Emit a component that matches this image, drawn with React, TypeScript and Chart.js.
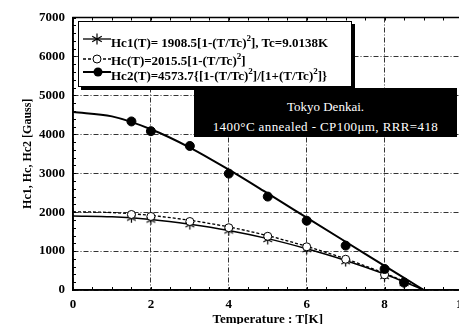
import React, { useEffect, useRef } from "react";
import { Chart, registerables } from "chart.js";

Chart.register(...registerables);

// ---- data ----
const curveT = [0, 1, 2, 3, 4, 5, 6, 7, 8, 8.5, 9.01];
const hc1Curve = [1900, 1880, 1810, 1690, 1530, 1320, 1060, 760, 410, 210, 0];
const hcCurve = [2010, 1990, 1915, 1790, 1620, 1395, 1120, 800, 430, 225, 0];
const hc2Curve = [4570, 4460, 4130, 3660, 3090, 2480, 1860, 1240, 620, 310, 0];

const markT = [1.5, 2, 3, 4, 5, 6, 7, 8, 8.5];
const hc1Pts = [1850, 1800, 1680, 1520, 1300, 1040, 730, 350, 170];
const hcPts = [1940, 1890, 1760, 1600, 1380, 1110, 790, 390, 200];
const hc2Pts = [4330, 4080, 3700, 2990, 2400, 1780, 1140, 540, 190];

const xMin = 0;
const xMax = 10;
const xStep = 2;
const xMinor = 0.5;
const yMin = 0;
const yMax = 7000;
const yStep = 1000;
const yMinor = 200;

const xTitle = "Temperature : T[K]";
const yTitle = "Hc1, Hc, Hc2 [Gauss]";

// legend rows: [text, superscript, text, ...]
const legendHc1 = ["Hc1(T)= 1908.5[1-(T/Tc)", "2", "], Tc=9.0138K"];
const legendHc = ["Hc(T)=2015.5[1-(T/Tc)", "2", "]"];
const legendHc2 = ["Hc2(T)=4573.7{[1-(T/Tc)", "2", "]/[1+(T/Tc)", "2", "]}"];

const noteLines = ["Tokyo Denkai.", "1400°C annealed - CP100μm, RRR=418"];

const SERIF = "'Liberation Serif', 'Times New Roman', serif";

function makeStar(size: number) {
  const c = document.createElement("canvas");
  c.width = size;
  c.height = size;
  const g = c.getContext("2d")!;
  g.strokeStyle = "#000";
  g.lineWidth = 1.2;
  const cx = size / 2;
  const r = size / 2 - 0.5;
  g.beginPath();
  [90, 30, 150].forEach((deg) => {
    const a = (deg * Math.PI) / 180;
    g.moveTo(cx - r * Math.cos(a), cx - r * Math.sin(a));
    g.lineTo(cx + r * Math.cos(a), cx + r * Math.sin(a));
  });
  g.stroke();
  return c;
}

const pts = (xs: number[], ys: number[]) => xs.map((x, i) => ({ x, y: ys[i] }));

const framePlugin = {
  id: "frameTicks",
  afterDatasetsDraw(chart: any) {
    const { ctx, chartArea: a, scales } = chart;
    const xs = scales.x;
    const ys = scales.y;
    ctx.save();
    ctx.strokeStyle = "#000";
    ctx.lineWidth = 1;
    ctx.beginPath();
    for (let v = xMin; v <= xMax + 1e-9; v += xMinor) {
      const px = Math.round(xs.getPixelForValue(v)) + 0.5;
      ctx.moveTo(px, a.bottom);
      ctx.lineTo(px, a.bottom - 3);
      ctx.moveTo(px, a.top);
      ctx.lineTo(px, a.top + 3);
    }
    for (let v = yMin; v <= yMax + 1e-9; v += yMinor) {
      const py = Math.round(ys.getPixelForValue(v)) + 0.5;
      ctx.moveTo(a.left, py);
      ctx.lineTo(a.left + 3, py);
    }
    ctx.stroke();
    ctx.lineWidth = 1.5;
    ctx.strokeRect(a.left, a.top, a.right - a.left, a.bottom - a.top);
    ctx.restore();
  },
};

function Sup({ segs }: { segs: string[] }) {
  return (
    <>
      {segs.map((s, i) =>
        i % 2 === 1 ? (
          <span key={i} style={{ fontSize: 9, position: "relative", top: -6 }}>
            {s}
          </span>
        ) : (
          <span key={i}>{s}</span>
        )
      )}
    </>
  );
}

export default function App() {
  const ref = useRef<HTMLCanvasElement | null>(null);

  useEffect(() => {
    if (!ref.current) return;
    const star = makeStar(11);
    const chart = new Chart(ref.current, {
      type: "line",
      data: {
        datasets: [
          {
            label: "Hc2 fit",
            data: pts(curveT, hc2Curve),
            borderColor: "#000",
            borderWidth: 2,
            pointRadius: 0,
            cubicInterpolationMode: "monotone",
            order: 6,
          },
          {
            label: "Hc fit",
            data: pts(curveT, hcCurve),
            borderColor: "#000",
            borderWidth: 1.3,
            borderDash: [3, 2],
            pointRadius: 0,
            cubicInterpolationMode: "monotone",
            order: 5,
          },
          {
            label: "Hc1 fit",
            data: pts(curveT, hc1Curve),
            borderColor: "#000",
            borderWidth: 1.5,
            pointRadius: 0,
            cubicInterpolationMode: "monotone",
            order: 4,
          },
          {
            label: "Hc1",
            data: pts(markT, hc1Pts),
            showLine: false,
            pointStyle: star as any,
            pointRadius: 5,
            borderColor: "#000",
            order: 3,
          },
          {
            label: "Hc",
            data: pts(markT, hcPts),
            showLine: false,
            pointStyle: "circle",
            pointRadius: 4,
            backgroundColor: "#fff",
            borderColor: "#000",
            borderWidth: 1,
            order: 2,
          },
          {
            label: "Hc2",
            data: pts(markT, hc2Pts),
            showLine: false,
            pointStyle: "circle",
            pointRadius: 4.5,
            backgroundColor: "#000",
            borderColor: "#000",
            borderWidth: 1,
            order: 1,
          },
        ],
      },
      options: {
        responsive: false,
        animation: false,
        devicePixelRatio: 1,
        layout: { padding: { left: 0, right: 17.5, top: 17.5, bottom: 0 } },
        plugins: {
          legend: { display: false },
          tooltip: { enabled: false },
        },
        scales: {
          x: {
            type: "linear",
            min: xMin,
            max: xMax,
            ticks: {
              stepSize: xStep,
              padding: 7,
              color: "#000",
              maxRotation: 0,
              callback: (v: any) => String(v),
              font: { family: SERIF, size: 13, weight: "bold" },
            },
            grid: { color: "#333", lineWidth: 1, drawTicks: false },
            border: { color: "#000", width: 1.5, dash: [5, 2, 1, 2] },
            title: {
              display: true,
              text: xTitle,
              color: "#000",
              padding: 0,
              font: { family: SERIF, size: 13, weight: "bold", lineHeight: 0.7 },
            },
            afterFit: (s: any) => {
              s.height = 34;
            },
          },
          y: {
            type: "linear",
            min: yMin,
            max: yMax,
            ticks: {
              stepSize: yStep,
              padding: 8,
              color: "#000",
              callback: (v: any) => String(v),
              font: { family: SERIF, size: 13, weight: "bold" },
            },
            grid: { color: "#333", lineWidth: 1, drawTicks: false },
            border: { color: "#000", width: 1.5, dash: [5, 2, 1, 2] },
            title: {
              display: true,
              text: yTitle,
              color: "#000",
              padding: { top: 20.8, bottom: 0 },
              font: { family: SERIF, size: 12, weight: "bold" },
            },
            afterFit: (s: any) => {
              s.width = 73;
            },
          },
        },
      },
      plugins: [framePlugin],
    } as any);
    return () => chart.destroy();
  }, []);

  const rowText: React.CSSProperties = {
    position: "absolute",
    left: 32,
    fontFamily: SERIF,
    fontWeight: "bold",
    fontSize: 13,
    lineHeight: "13px",
    whiteSpace: "nowrap",
    color: "#000",
  };

  return (
    <div
      style={{
        position: "fixed",
        left: 0,
        top: 0,
        width: 459,
        height: 324,
        overflow: "hidden",
        background: "#fff",
      }}
    >
      <canvas
        ref={ref}
        width={480}
        height={324}
        style={{ position: "absolute", left: 0, top: 0, width: 480, height: 324 }}
      />
      {/* legend */}
      <div
        style={{
          position: "absolute",
          left: 78,
          top: 21,
          width: 274,
          height: 66,
          boxSizing: "border-box",
          border: "1px solid #000",
          boxShadow: "3px 3px 0 #000",
          background: "#fff",
        }}
      >
        <svg width={28} height={14} style={{ position: "absolute", left: 4, top: 10 }}>
          <line x1={0} y1={7} x2={28} y2={7} stroke="#000" strokeWidth={1.3} />
          <line x1={14} y1={1.5} x2={14} y2={12.5} stroke="#000" strokeWidth={1.2} />
          <line x1={9.2} y1={4.2} x2={18.8} y2={9.8} stroke="#000" strokeWidth={1.2} />
          <line x1={9.2} y1={9.8} x2={18.8} y2={4.2} stroke="#000" strokeWidth={1.2} />
        </svg>
        <div style={{ ...rowText, top: 14 }}>
          <Sup segs={legendHc1} />
        </div>
        <svg width={28} height={14} style={{ position: "absolute", left: 4, top: 30 }}>
          <line x1={0} y1={7} x2={28} y2={7} stroke="#000" strokeWidth={1.3} strokeDasharray="3 2" />
          <circle cx={14} cy={7} r={4} fill="#fff" stroke="#000" strokeWidth={1} />
        </svg>
        <div style={{ ...rowText, top: 32 }}>
          <Sup segs={legendHc} />
        </div>
        <svg width={28} height={14} style={{ position: "absolute", left: 4, top: 43 }}>
          <line x1={0} y1={7} x2={28} y2={7} stroke="#000" strokeWidth={2} />
          <circle cx={15} cy={7} r={4.5} fill="#000" />
        </svg>
        <div style={{ ...rowText, top: 47 }}>
          <Sup segs={legendHc2} />
        </div>
      </div>
      {/* note box */}
      <div
        style={{
          position: "absolute",
          left: 194,
          top: 88,
          width: 263,
          height: 49,
          background: "#000",
          color: "#fff",
          fontFamily: SERIF,
          fontSize: 13,
          textAlign: "center",
        }}
      >
        <div style={{ position: "absolute", left: 0, right: 0, top: 12, lineHeight: "13px", whiteSpace: "nowrap" }}>
          {noteLines[0]}
        </div>
        <div
          style={{
            position: "absolute",
            left: 0,
            right: 0,
            top: 32,
            lineHeight: "13px",
            whiteSpace: "nowrap",
            letterSpacing: 0.4,
          }}
        >
          {noteLines[1]}
        </div>
      </div>
    </div>
  );
}
